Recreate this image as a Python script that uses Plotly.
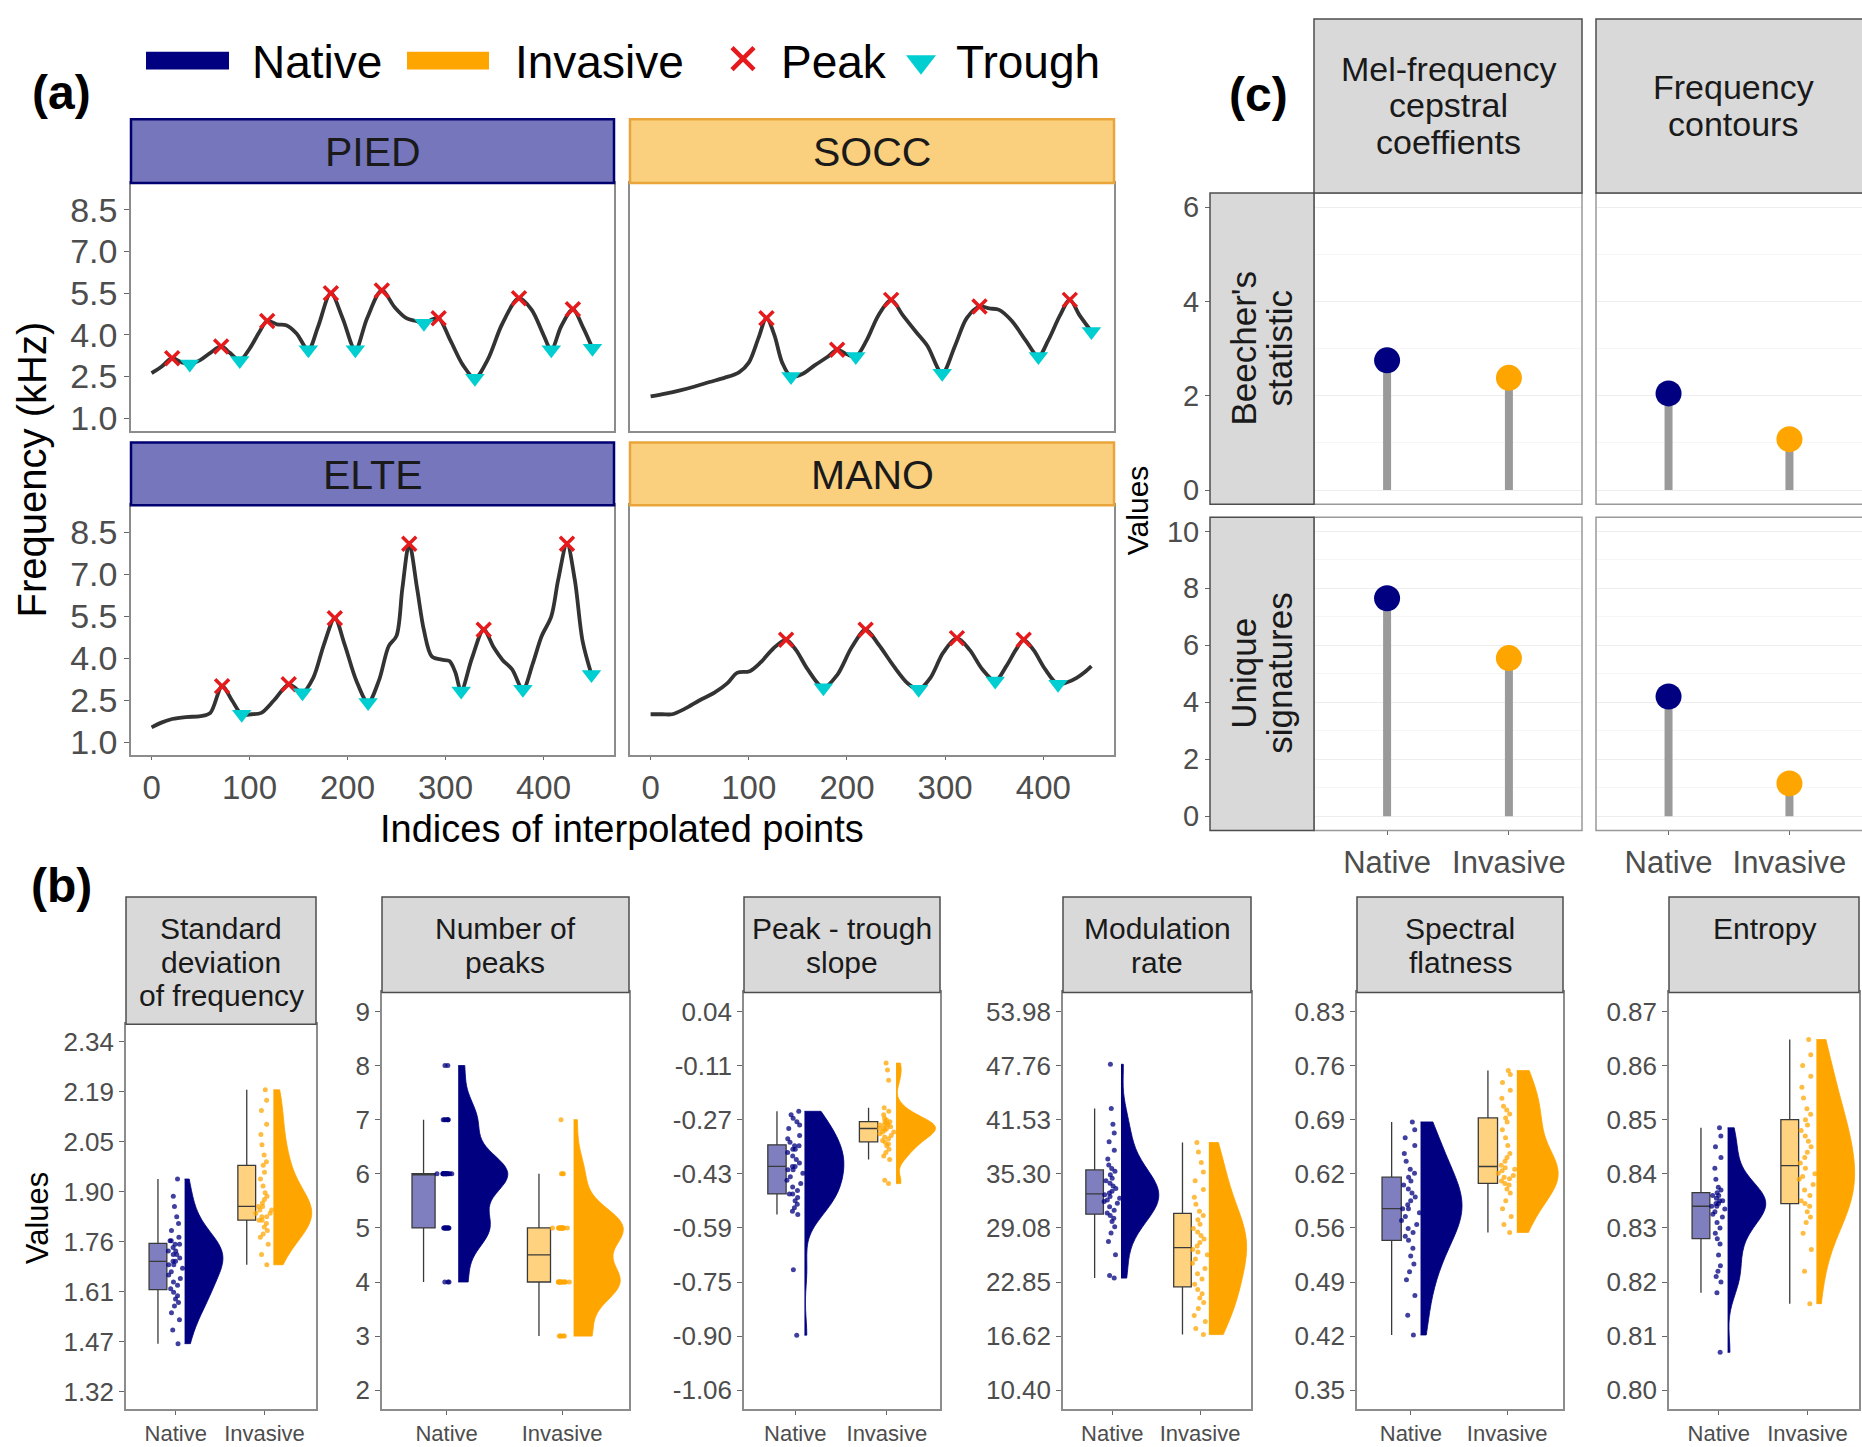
import plotly.graph_objects as go
import numpy as np

W, H = 1862, 1447
FONT = "Liberation Sans, Arial, Helvetica, sans-serif"
NAVY = "#000080"
ORANGE = "#FFA500"
NAVY_FILL = "rgba(0,0,128,0.5)"
ORANGE_FILL = "rgba(255,165,0,0.5)"
TICK_GRAY = "#4D4D4D"
PEAK_RED = "#E41A1C"
TROUGH_CYAN = "#00CED1"

# ---------------- Panel (a): frequency contours ----------------
pied_idx = [0, 10, 21, 30, 39, 50, 60, 71, 80, 90, 100, 110, 118, 128, 138, 148, 160, 170, 183, 195,
            208, 220, 235, 248, 260, 270, 278, 286, 293, 305, 318, 330, 343, 358, 375, 388, 400, 408,
            418, 430, 440, 450]
pied_freq = [2.62, 2.85, 3.16, 3.02, 2.95, 3.10, 3.35, 3.58, 3.35, 3.08, 3.50, 4.10, 4.50, 4.38, 4.34,
             4.05, 3.46, 4.30, 5.50, 4.60, 3.46, 4.60, 5.60, 5.00, 4.60, 4.50, 4.42, 4.55, 4.60, 3.80,
             2.90, 2.44, 3.10, 4.40, 5.32, 4.90, 4.00, 3.46, 4.30, 4.92, 4.30, 3.52]
pied_peak_idx = [21, 71, 118, 183, 235, 293, 375, 430]
pied_peak_val = [3.16, 3.58, 4.50, 5.50, 5.60, 4.60, 5.32, 4.92]
pied_trough_idx = [39, 90, 160, 208, 278, 330, 408, 450]
pied_trough_val = [2.95, 3.08, 3.46, 3.46, 4.42, 2.44, 3.46, 3.52]

socc_idx = [0, 15, 30, 45, 60, 75, 90, 100, 110, 118, 126, 134, 143, 155, 167, 180, 190, 200, 209, 220,
            232, 245, 257, 270, 282, 297, 310, 322, 335, 345, 355, 368, 382, 395, 405, 417, 427, 437, 449]
socc_freq = [1.78, 1.88, 2.00, 2.14, 2.30, 2.45, 2.65, 3.00, 3.90, 4.60, 4.00, 3.00, 2.50, 2.60, 2.90,
             3.20, 3.46, 3.30, 3.22, 3.80, 4.70, 5.26, 4.70, 4.12, 3.60, 2.62, 3.60, 4.60, 5.02, 4.95,
             4.90, 4.50, 3.80, 3.22, 3.80, 4.70, 5.26, 4.70, 4.12]
socc_peak_idx = [118, 190, 245, 335, 427]
socc_peak_val = [4.60, 3.46, 5.26, 5.02, 5.26]
socc_trough_idx = [143, 209, 297, 395, 449]
socc_trough_val = [2.50, 3.22, 2.62, 3.22, 4.12]

elte_idx = [0, 10, 21, 35, 50, 60, 72, 82, 92, 102, 112, 125, 140, 148, 154, 165, 176, 187, 197, 209,
            221, 232, 242, 250, 256, 263, 271, 278, 286, 296, 304, 310, 316, 327, 339, 349, 358, 368,
            379, 389, 398, 408, 415, 424, 432, 440, 449]
elte_freq = [1.53, 1.70, 1.83, 1.90, 1.93, 2.05, 3.00, 2.50, 2.00, 2.00, 2.05, 2.50, 3.07, 2.90, 2.77,
             3.30, 4.50, 5.43, 4.50, 3.20, 2.42, 3.20, 4.43, 4.80, 6.50, 8.09, 6.50, 5.00, 4.07, 3.95,
             3.90, 3.50, 2.83, 4.00, 5.02, 4.40, 3.95, 3.60, 2.89, 3.80, 4.78, 5.50, 6.80, 8.09, 6.80,
             4.60, 3.42]
elte_peak_idx = [72, 140, 187, 263, 339, 424]
elte_peak_val = [3.00, 3.07, 5.43, 8.09, 5.02, 8.09]
elte_trough_idx = [92, 154, 221, 316, 379, 449]
elte_trough_val = [2.00, 2.77, 2.42, 2.83, 2.89, 3.42]

mano_idx = [0, 12, 22, 35, 50, 65, 78, 88, 101, 112, 125, 138, 148, 160, 176, 190, 205, 219, 232, 248,
            262, 273, 285, 298, 312, 325, 338, 351, 362, 372, 380, 390, 402, 415, 425, 434, 442, 449]
mano_freq = [2.00, 2.00, 2.00, 2.20, 2.50, 2.77, 3.10, 3.48, 3.54, 3.85, 4.35, 4.66, 4.30, 3.60, 2.95,
             3.40, 4.40, 5.02, 4.50, 3.70, 3.10, 2.89, 3.30, 4.20, 4.72, 4.30, 3.60, 3.19, 3.70, 4.30,
             4.66, 4.30, 3.60, 3.07, 3.15, 3.30, 3.50, 3.72]
mano_peak_idx = [138, 219, 312, 380]
mano_peak_val = [4.66, 5.02, 4.72, 4.66]
mano_trough_idx = [176, 273, 351, 415]
mano_trough_val = [2.95, 2.89, 3.19, 3.07]

freq_ticks = [1.0, 2.5, 4.0, 5.5, 7.0, 8.5]
index_ticks = [0, 100, 200, 300, 400]

# ---------------- Panel (b): raincloud data ----------------
sd_native = [1.46, 1.50, 1.53, 1.55, 1.57, 1.58, 1.59, 1.60, 1.61, 1.62, 1.63, 1.64, 1.65, 1.66, 1.67,
             1.68, 1.69, 1.69, 1.70, 1.70, 1.71, 1.72, 1.72, 1.73, 1.73, 1.74, 1.75, 1.75, 1.76, 1.76,
             1.77, 1.79, 1.81, 1.83, 1.86, 1.89, 1.94]
sd_invasive = [1.69, 1.72, 1.75, 1.77, 1.78, 1.79, 1.80, 1.81, 1.82, 1.82, 1.83, 1.83, 1.84, 1.84, 1.85,
               1.85, 1.86, 1.86, 1.87, 1.88, 1.89, 1.90, 1.92, 1.94, 1.96, 1.98, 1.99, 2.01, 2.04, 2.07,
               2.10, 2.14, 2.17, 2.20]
peaks_native = [4, 4, 4, 5, 5, 5, 5, 5, 5, 5, 5, 5, 5, 6, 6, 6, 6, 6, 6, 6, 6, 6, 6, 6, 6, 6, 6, 6, 6,
                7, 7, 7, 7, 7, 7, 8, 8]
peaks_invasive = [3, 3, 3, 3, 3, 4, 4, 4, 4, 4, 4, 4, 4, 4, 4, 4, 4, 4, 5, 5, 5, 5, 5, 5, 5, 5, 5, 5, 5,
                  5, 5, 5, 6, 6, 6, 7]
slope_native = [-0.90, -0.71, -0.55, -0.54, -0.53, -0.52, -0.51, -0.50, -0.49, -0.49, -0.48, -0.47,
                -0.46, -0.45, -0.44, -0.43, -0.42, -0.42, -0.41, -0.41, -0.40, -0.39, -0.38, -0.37,
                -0.36, -0.36, -0.35, -0.35, -0.34, -0.33, -0.32, -0.30, -0.29, -0.28, -0.27, -0.26, -0.25]
slope_invasive = [-0.46, -0.45, -0.39, -0.38, -0.37, -0.36, -0.35, -0.345, -0.34, -0.335, -0.33, -0.325,
                  -0.32, -0.315, -0.31, -0.31, -0.305, -0.30, -0.30, -0.30, -0.295, -0.29, -0.29, -0.29,
                  -0.285, -0.28, -0.28, -0.275, -0.27, -0.26, -0.25, -0.24, -0.16, -0.13, -0.11]
mod_native = [23.3, 23.6, 26.0, 27.5, 28.5, 29.2, 29.8, 30.2, 30.5, 30.8, 31.1, 31.5, 31.9, 32.1, 32.3,
              32.5, 32.7, 32.9, 33.1, 33.3, 33.6, 33.9, 34.2, 34.5, 34.8, 35.2, 35.6, 35.9, 36.3, 37.0,
              38.0, 39.0, 40.0, 41.0, 42.8, 47.9]
mod_invasive = [16.8, 17.5, 18.3, 19.0, 19.8, 20.5, 21.0, 21.5, 22.0, 22.6, 23.2, 23.8, 24.4, 25.0, 25.5,
                26.0, 26.3, 26.6, 27.0, 27.4, 27.8, 28.2, 28.6, 29.0, 29.5, 30.0, 30.5, 31.0, 31.8, 32.6,
                33.5, 34.5, 35.5, 36.6, 37.8, 38.9]
flat_native = [0.42, 0.445, 0.47, 0.49, 0.50, 0.51, 0.52, 0.53, 0.54, 0.545, 0.55, 0.555, 0.56, 0.565,
               0.57, 0.575, 0.58, 0.58, 0.585, 0.59, 0.595, 0.60, 0.605, 0.61, 0.615, 0.62, 0.625, 0.63,
               0.64, 0.65, 0.66, 0.67, 0.68, 0.69]
flat_invasive = [0.55, 0.56, 0.57, 0.58, 0.59, 0.60, 0.605, 0.61, 0.612, 0.615, 0.618, 0.62, 0.622, 0.625,
                 0.628, 0.63, 0.632, 0.635, 0.64, 0.645, 0.65, 0.66, 0.67, 0.68, 0.69, 0.695, 0.70, 0.705,
                 0.71, 0.72, 0.73, 0.74, 0.75, 0.755]
ent_native = [0.807, 0.818, 0.820, 0.821, 0.822, 0.823, 0.825, 0.827, 0.828, 0.829, 0.830, 0.831, 0.832,
              0.8325, 0.833, 0.8335, 0.834, 0.834, 0.8345, 0.8345, 0.835, 0.835, 0.8355, 0.836, 0.836,
              0.8365, 0.837, 0.8375, 0.839, 0.841, 0.843, 0.845, 0.847, 0.8485]
ent_invasive = [0.816, 0.822, 0.826, 0.829, 0.831, 0.832, 0.833, 0.834, 0.8345, 0.835, 0.836, 0.837,
                0.838, 0.839, 0.8395, 0.840, 0.841, 0.842, 0.843, 0.844, 0.845, 0.846, 0.847, 0.848,
                0.849, 0.850, 0.851, 0.852, 0.854, 0.856, 0.858, 0.860, 0.862, 0.8648]

sd_ticks = ["1.32", "1.47", "1.61", "1.76", "1.90", "2.05", "2.19", "2.34"]
peaks_ticks = ["2", "3", "4", "5", "6", "7", "8", "9"]
slope_ticks = ["-1.06", "-0.90", "-0.75", "-0.59", "-0.43", "-0.27", "-0.11", "0.04"]
mod_ticks = ["10.40", "16.62", "22.85", "29.08", "35.30", "41.53", "47.76", "53.98"]
flat_ticks = ["0.35", "0.42", "0.49", "0.56", "0.62", "0.69", "0.76", "0.83"]
ent_ticks = ["0.80", "0.81", "0.82", "0.83", "0.84", "0.85", "0.86", "0.87"]
status_labels = ["Native", "Invasive"]

# ---------------- Panel (c): lollipop values ----------------
c_methods = ["Mel-frequency\ncepstral\ncoeffients", "Frequency\ncontours"]
c_metrics = ["Beecher's\nstatistic", "Unique\nsignatures"]
beecher_native = [2.75, 2.05]
beecher_invasive = [2.38, 1.08]
unique_native = [7.65, 4.20]
unique_invasive = [5.55, 1.15]
beecher_ticks = [0, 2, 4, 6]
unique_ticks = [0, 2, 4, 6, 8, 10]

# ============================================================
layout = dict(width=W, height=H, margin=dict(l=0, r=0, t=0, b=0), paper_bgcolor="white",
              plot_bgcolor="rgba(0,0,0,0)", showlegend=False, font=dict(family=FONT, color="#1A1A1A"))
shapes, annotations, traces = [], [], []
n_ax = [0]


def new_axes(x0, x1, y0, y1, xrange, yrange, xkw=None, ykw=None, border="#8C8C8C", bw=1.5):
    n_ax[0] += 1
    n = n_ax[0]
    sfx = "" if n == 1 else str(n)
    base = dict(showgrid=False, zeroline=False, showline=True, mirror=True, linecolor=border,
                linewidth=bw, ticks="outside", tickcolor="#666666", ticklen=6, tickwidth=1.2,
                tickfont=dict(color=TICK_GRAY, family=FONT), fixedrange=True)
    xa = dict(base, domain=[x0 / W, x1 / W], range=xrange, anchor="y" + sfx)
    ya = dict(base, domain=[1 - y1 / H, 1 - y0 / H], range=yrange, anchor="x" + sfx)
    if xkw:
        xa.update(xkw)
    if ykw:
        ya.update(ykw)
    layout["xaxis" + sfx] = xa
    layout["yaxis" + sfx] = ya
    return "x" + sfx, "y" + sfx


def rect(x0, x1, y0, y1, fill, border, bw):
    shapes.append(dict(type="rect", xref="paper", yref="paper", x0=x0 / W, x1=x1 / W,
                       y0=1 - y1 / H, y1=1 - y0 / H, fillcolor=fill,
                       line=dict(color=border, width=bw), layer="above"))


def text(x, y, s, size, color="#1A1A1A", angle=0, xanchor="center", bold=False):
    if bold:
        s = "<b>" + s + "</b>"
    annotations.append(dict(x=x / W, y=1 - y / H, xref="paper", yref="paper", text=s,
                            showarrow=False, textangle=angle, xanchor=xanchor, yanchor="middle",
                            font=dict(size=size, color=color, family=FONT)))


def strip_text(cx, cy, label, size, spacing, vertical=False):
    lines = label.split("\n")
    n = len(lines)
    for i, ln in enumerate(lines):
        off = (i - (n - 1) / 2) * spacing
        if vertical:
            text(cx + off, cy, ln, size, angle=-90)
        else:
            text(cx, cy + off, ln, size)


# ---------------- Panel (a) ----------------
a_panels = [
    ("PIED", "Native", pied_idx, pied_freq, pied_peak_idx, pied_peak_val, pied_trough_idx, pied_trough_val,
     131, 614, 182, 431, 118, True, False),
    ("SOCC", "Invasive", socc_idx, socc_freq, socc_peak_idx, socc_peak_val, socc_trough_idx, socc_trough_val,
     630, 1114, 182, 431, 118, False, False),
    ("ELTE", "Native", elte_idx, elte_freq, elte_peak_idx, elte_peak_val, elte_trough_idx, elte_trough_val,
     131, 614, 506, 757, 443, True, True),
    ("MANO", "Invasive", mano_idx, mano_freq, mano_peak_idx, mano_peak_val, mano_trough_idx, mano_trough_val,
     630, 1114, 506, 757, 443, False, True),
]
for (name, status, ix, fq, pk_i, pk_v, tr_i, tr_v, x0, x1, y0, y1, sy0, show_y, show_x) in a_panels:
    xr, yr = new_axes(
        x0, x1, y0, y1, [-21, 472], [0.55, 9.47],
        xkw=dict(tickvals=index_ticks, showticklabels=show_x, ticks="outside" if show_x else "",
                 ticklen=3, tickfont=dict(size=33, color=TICK_GRAY, family=FONT)),
        ykw=dict(tickvals=freq_ticks, tickformat=".1f", showticklabels=show_y, ticklen=5,
                 ticks="outside" if show_y else "", tickfont=dict(size=34, color=TICK_GRAY, family=FONT)))
    traces.append(go.Scatter(x=ix, y=fq, mode="lines", xaxis=xr, yaxis=yr, hoverinfo="skip",
                             line=dict(color="#333333", width=3.8, shape="spline", smoothing=0.9)))
    traces.append(go.Scatter(x=pk_i, y=pk_v, mode="markers", xaxis=xr, yaxis=yr,
                             marker=dict(symbol="x-thin", size=14, color=PEAK_RED,
                                         line=dict(color=PEAK_RED, width=3.5))))
    traces.append(go.Scatter(x=tr_i, y=tr_v, mode="markers", xaxis=xr, yaxis=yr,
                             marker=dict(symbol="triangle-down", size=17, color=TROUGH_CYAN,
                                         line=dict(width=0))))
    if status == "Native":
        rect(x0, x1, sy0, y0, "#7676BD", "#000070", 2.5)
    else:
        rect(x0, x1, sy0, y0, "#FAD07E", "#E9A53A", 2.5)
    text((x0 + x1) / 2, (sy0 + y0) / 2 + 1, name, 41)

text(32, 470, "Frequency (kHz)", 40, color="#000000", angle=-90)
text(622, 832, "Indices of interpolated points", 38, color="#000000")
text(61, 91, "(a)", 48, color="#000000", bold=True)

# legend of panel (a)
rect(146, 229, 50, 68, NAVY, NAVY, 0)
rect(407, 489, 50, 68, ORANGE, ORANGE, 0)
text(250, 60, "Native", 46, color="#000000", xanchor="left")
text(513, 60, "Invasive", 46, color="#000000", xanchor="left")
text(779, 60, "Peak", 46, color="#000000", xanchor="left")
text(954, 60, "Trough", 46, color="#000000", xanchor="left")

# ---------------- Panel (c) ----------------
c_cols = [(1314, 1582), (1596, 1862)]
c_rows = [(192, 505, beecher_native, beecher_invasive, beecher_ticks, [-0.3, 6.3]),
          (518, 833, unique_native, unique_invasive, unique_ticks, [-0.5, 10.5])]
for ri, (ry0, ry1, nat, inv, yt, yrng) in enumerate(c_rows):
    for ci, (cx0, cx1) in enumerate(c_cols):
        ykw = dict(tickvals=yt, showticklabels=(ci == 0), ticks="outside" if ci == 0 else "",
                   showline=False, showgrid=True, gridcolor="#EDEDED", gridwidth=1.2, ticklen=5,
                   minor=dict(showgrid=True, gridcolor="#F6F6F6", dtick=1),
                   tickfont=dict(size=29, color=TICK_GRAY, family=FONT))
        if ci == 0:
            ykw.update(anchor="free", position=1210 / W)
        xr, yr = new_axes(
            cx0, cx1, ry0, ry1, [0.4, 2.6], yrng, border="#999999", bw=1.5,
            xkw=dict(tickvals=[1, 2], ticktext=status_labels, showticklabels=(ri == 1), showline=False,
                     ticks="outside" if ri == 1 else "", ticklen=4,
                     tickfont=dict(size=31, color=TICK_GRAY, family=FONT)),
            ykw=ykw)
        vals = [nat[ci], inv[ci]]
        for k, (v, col) in enumerate(zip(vals, [NAVY, ORANGE])):
            traces.append(go.Scatter(x=[k + 1, k + 1], y=[0, v], mode="lines", xaxis=xr, yaxis=yr,
                                     line=dict(color="#9A9A9A", width=8), hoverinfo="skip"))
            traces.append(go.Scatter(x=[k + 1], y=[v], mode="markers", xaxis=xr, yaxis=yr,
                                     marker=dict(size=26, color=col, line=dict(width=0))))
        rect(cx0, cx1 + (12 if ci == 1 else 0), ry0, ry1, "rgba(0,0,0,0)", "#999999", 1.5)
    # row strip
    rect(1210, 1314, ry0, ry1, "#D9D9D9", "#4D4D4D", 1.5)
    strip_text(1262, (ry0 + ry1) / 2, c_metrics[ri], 35, 36, vertical=True)
for ci, (cx0, cx1) in enumerate(c_cols):
    rect(cx0, cx1 + (12 if ci == 1 else 0), 17, 192, "#D9D9D9", "#4D4D4D", 1.5)
    strip_text((cx0 + cx1) / 2 + (4 if ci == 1 else 0), 104, c_methods[ci], 34, 36.5)
text(1137, 511, "Values", 30, color="#000000", angle=-90)
text(1258, 93, "(c)", 48, color="#000000", bold=True)

# ---------------- Panel (b) ----------------
b_panels = [
    ("Standard\ndeviation\nof frequency", sd_ticks, sd_native, sd_invasive, 126, 316, 1028),
    ("Number of\npeaks", peaks_ticks, peaks_native, peaks_invasive, 382, 629, 996),
    ("Peak - trough\nslope", slope_ticks, slope_native, slope_invasive, 744, 940, 996),
    ("Modulation\nrate", mod_ticks, mod_native, mod_invasive, 1063, 1251, 996),
    ("Spectral\nflatness", flat_ticks, flat_native, flat_invasive, 1357, 1563, 996),
    ("Entropy\n ", ent_ticks, ent_native, ent_invasive, 1669, 1859, 996),
]
for (label, tlabels, nat, inv, x0, x1, ptop) in b_panels:
    lo, hi = float(tlabels[0]), float(tlabels[-1])
    span = hi - lo
    tv = list(np.linspace(lo, hi, len(tlabels)))
    xr, yr = new_axes(
        x0, x1, ptop, 1415, [0.44, 2.58], [lo - 0.05 * span, hi + 0.05 * span], border="#8C8C8C",
        xkw=dict(tickvals=[1, 2], ticktext=status_labels, tickfont=dict(size=22, color=TICK_GRAY, family=FONT),
                 ticklen=4),
        ykw=dict(tickvals=tv, ticktext=tlabels, tickfont=dict(size=26, color=TICK_GRAY, family=FONT),
                 ticklen=5))
    for k, (vals, col, fill) in enumerate([(nat, NAVY, NAVY_FILL), (inv, ORANGE, ORANGE_FILL)]):
        pos = k + 1
        traces.append(go.Violin(x=[pos + 0.1] * len(vals), y=vals, xaxis=xr, yaxis=yr, orientation="v",
                                side="positive", width=0.86, points=False, spanmode="hard",
                                scalemode="width", fillcolor=col, line=dict(color=col, width=0.8),
                                box=dict(visible=False), meanline=dict(visible=False), hoverinfo="skip"))
        traces.append(go.Box(x=[pos - 0.2] * len(vals), y=vals, xaxis=xr, yaxis=yr, orientation="v",
                             width=0.2, boxpoints="all", pointpos=2, jitter=1, whiskerwidth=0,
                             fillcolor=fill, line=dict(color="#3A3A3A", width=1.3),
                             marker=dict(color=col, size=5, opacity=0.75), hoverinfo="skip"))
    rect(x0, x1, 900, ptop, "#D9D9D9", "#4D4D4D", 1.5)
    strip_text((x0 + x1) / 2, 932 + (len(label.split("\n")) - 1) * 16.75, label, 30, 33.5)

text(37, 1223, "Values", 31, color="#000000", angle=-90)
text(62, 888, "(b)", 48, color="#000000", bold=True)

# overlay axis for legend key symbols
xr, yr = new_axes(0, W, 0, H, [0, W], [H, 0],
                  xkw=dict(visible=False), ykw=dict(visible=False))
traces.append(go.Scatter(x=[743], y=[57], mode="markers", xaxis=xr, yaxis=yr,
                         marker=dict(symbol="x-thin", size=22, color=PEAK_RED,
                                     line=dict(color=PEAK_RED, width=4.5))))
traces.append(go.Scatter(x=[921], y=[60], mode="markers", xaxis=xr, yaxis=yr,
                         marker=dict(symbol="triangle-down", size=26, color=TROUGH_CYAN,
                                     line=dict(width=0))))

layout["shapes"] = shapes
layout["annotations"] = annotations
layout["boxmode"] = "overlay"
layout["violinmode"] = "overlay"

fig = go.Figure(data=traces, layout=layout)
fig.write_html("out.html", config={"displayModeBar": False},
               post_script="document.body.style.margin='0';document.body.style.overflow='hidden';")
